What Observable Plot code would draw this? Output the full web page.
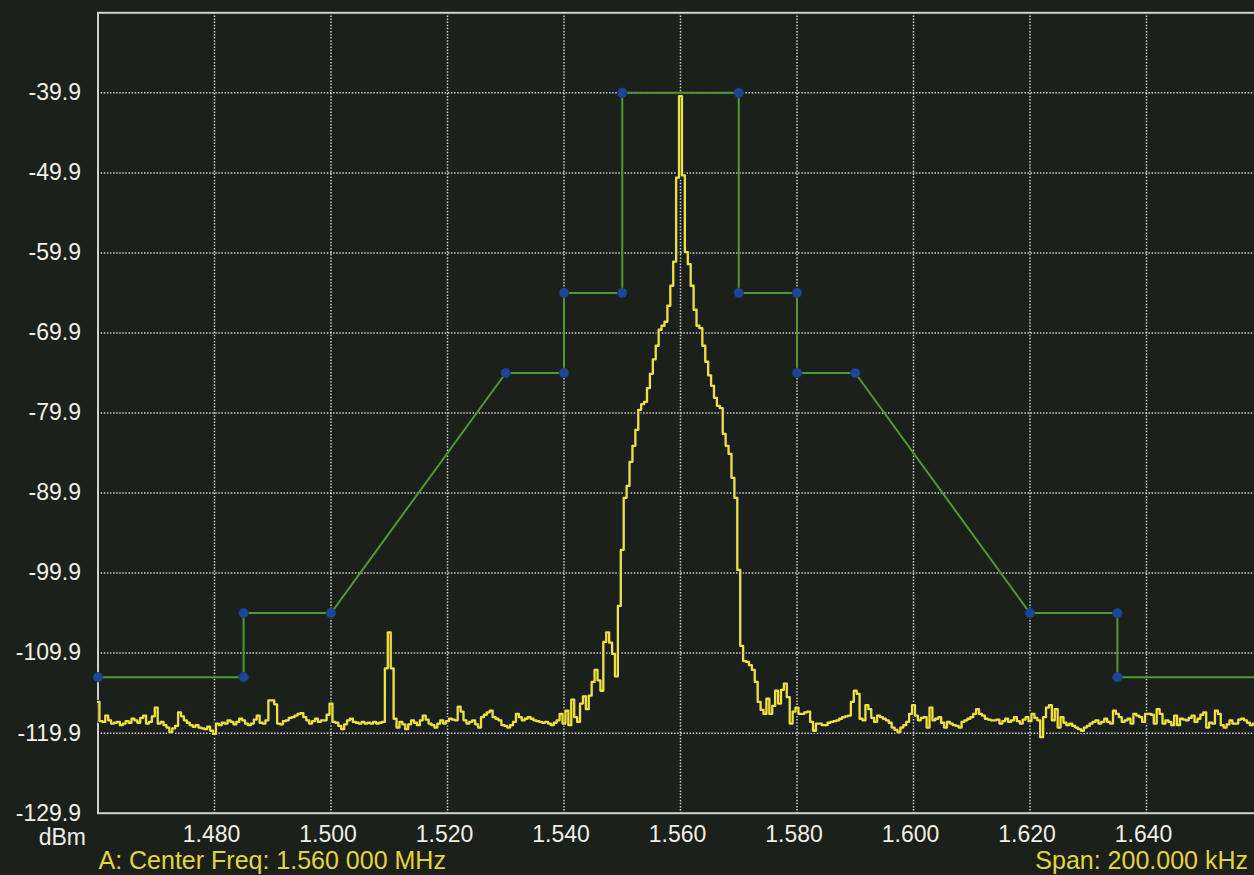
<!DOCTYPE html>
<html>
<head>
<meta charset="utf-8">
<script src="https://cdn.jsdelivr.net/npm/d3@7"></script>
<script src="https://cdn.jsdelivr.net/npm/@observablehq/plot@0.6"></script>
<style>
  html, body { margin: 0; padding: 0; background: #1b201b; overflow: hidden; width: 1254px; height: 875px; }
</style>
</head>
<body>
<div id="chart"></div>
<script>
// ---- data ----
const xTicks = [1.48, 1.50, 1.52, 1.54, 1.56, 1.58, 1.60, 1.62, 1.64, 1.66];
const yTicks = [-39.9, -49.9, -59.9, -69.9, -79.9, -89.9, -99.9, -109.9, -119.9, -129.9];

// spectral mask corners (MHz, dBm)
const maskFreq  = [1.460, 1.485, 1.485, 1.500, 1.530, 1.540, 1.540, 1.550, 1.550, 1.570, 1.570, 1.580, 1.580, 1.590, 1.620, 1.635, 1.635, 1.660];
const maskLevel = [-112.9, -112.9, -104.9, -104.9, -74.9, -74.9, -64.9, -64.9, -39.9, -39.9, -64.9, -64.9, -74.9, -74.9, -104.9, -104.9, -112.9, -112.9];

// trace: one reading per 0.5 kHz bin from 1.460 MHz
const traceStart = 1.460;
const traceBin = 0.0005;
const traceLevel = [
  -116.0, -118.4, -118.5, -117.7, -118.3, -118.7, -118.6, -118.5, -118.9, -118.7,
  -118.4, -118.6, -118.1, -118.3, -118.6, -118.0, -117.7, -118.7, -118.5, -117.8,
  -116.7, -118.7, -118.5, -118.9, -119.2, -119.8, -119.3, -119.0, -117.3, -117.8,
  -118.3, -118.6, -118.9, -119.1, -118.9, -119.2, -119.3, -119.4, -119.1, -119.6,
  -120.0, -118.7, -118.9, -118.6, -118.7, -118.3, -118.5, -118.8, -118.5, -118.1,
  -118.3, -118.7, -118.9, -118.7, -118.2, -117.7, -118.6, -118.7, -118.3, -115.8,
  -115.8, -116.3, -118.7, -118.8, -118.4, -118.3, -118.0, -117.9, -117.7, -117.5,
  -117.4, -117.9, -118.3, -118.7, -118.4, -118.1, -118.5, -118.3, -118.3, -117.6,
  -116.2, -118.5, -118.6, -119.0, -119.4, -118.8, -118.3, -118.1, -118.5, -118.6,
  -118.7, -118.5, -118.7, -118.6, -118.7, -118.5, -118.7, -118.6, -118.5, -111.8,
  -107.3, -111.8, -118.1, -119.2, -118.5, -118.8, -119.4, -118.8, -118.3, -118.6,
  -118.9, -118.3, -117.7, -118.2, -118.7, -118.9, -119.2, -118.7, -118.3, -118.7,
  -118.4, -118.1, -118.2, -118.3, -116.6, -117.2, -118.3, -118.7, -118.5, -118.3,
  -118.8, -119.2, -117.9, -117.6, -117.3, -117.1, -117.9, -118.1, -118.3, -118.9,
  -119.0, -119.2, -118.9, -118.5, -117.5, -117.9, -118.3, -118.1, -117.9, -118.1,
  -118.3, -118.4, -118.5, -118.6, -118.5, -118.7, -118.9, -118.6, -118.3, -117.5,
  -118.7, -117.1, -118.9, -115.7, -117.9, -118.5, -116.2, -115.3, -116.9, -115.2,
  -113.5, -112.0, -113.3, -114.6, -108.5, -107.3, -108.6, -110.0, -112.8, -104.0,
  -97.0, -90.5, -89.0, -86.0, -84.0, -82.0, -79.5, -78.8, -78.5, -76.8,
  -75.0, -73.2, -71.5, -69.5, -69.0, -68.5, -66.5, -64.0, -61.0, -50.5,
  -40.3, -50.2, -59.8, -61.3, -64.0, -67.0, -69.0, -69.3, -71.5, -73.5,
  -75.2, -76.5, -78.0, -79.0, -79.3, -82.5, -84.0, -85.0, -88.0, -90.5,
  -99.5, -109.0, -110.9, -111.0, -111.4, -112.0, -113.5, -116.0, -117.0, -117.5,
  -115.6, -117.5, -116.5, -114.6, -116.2, -114.5, -113.7, -115.4, -118.7, -117.2,
  -116.7, -117.5, -117.5, -117.3, -117.2, -118.5, -119.6, -118.7, -118.7, -118.9,
  -118.9, -118.6, -118.5, -118.4, -118.3, -118.1, -117.9, -117.8, -117.7, -116.0,
  -114.6, -115.0, -118.1, -118.3, -116.4, -116.9, -118.0, -118.5, -117.7, -117.9,
  -118.1, -118.3, -118.6, -119.2, -119.5, -119.8, -119.2, -118.9, -118.5, -117.5,
  -116.4, -117.7, -118.3, -118.0, -117.9, -119.2, -116.7, -118.3, -118.1, -117.9,
  -118.6, -119.2, -118.5, -118.7, -118.9, -119.0, -119.2, -118.5, -118.3, -118.1,
  -117.9, -117.5, -116.9, -117.5, -117.7, -118.1, -118.2, -118.3, -118.3, -118.2,
  -118.7, -118.4, -118.1, -118.5, -118.3, -117.9, -118.4, -118.7, -118.2, -117.9,
  -118.4, -117.5, -118.0, -118.3, -120.4, -117.9, -116.7, -116.4, -118.3, -116.9,
  -119.2, -117.9, -118.6, -118.9, -118.7, -119.0, -119.2, -119.4, -119.6, -119.2,
  -119.0, -118.7, -118.5, -118.3, -118.7, -118.5, -118.1, -118.5, -118.7, -117.1,
  -117.5, -117.9, -118.5, -118.3, -118.1, -118.7, -117.5, -117.7, -117.9, -118.5,
  -117.5, -117.5, -117.6, -118.7, -116.9, -117.5, -118.7, -118.3, -118.5, -118.9,
  -117.7, -118.9, -118.1, -118.2, -118.3, -118.0, -117.7, -118.5, -118.1, -117.6,
  -117.3, -119.2, -118.6, -118.7, -117.1, -117.5, -118.9, -119.2, -118.8, -118.3,
  -118.7, -118.7, -118.2, -118.1, -118.3, -118.6, -118.9, -118.7, -118.5, -118.6,
  -118.7
];

const unitLabel = "dBm";
const leftFooter = "A: Center Freq: 1.560 000 MHz";
const rightFooter = "Span: 200.000 kHz";

// ---- tables built from the arrays ----
const mask = maskFreq.map((f, i) => ({f, v: maskLevel[i]}));
const trace = traceLevel.map((v, i) => ({f: traceStart + i * traceBin, v}));

const tickColor = "#f2efe6";
const footerColor = "#e4d43c";

const chart = Plot.plot({
  width: 1270,
  height: 875,
  marginLeft: 97.5,
  marginRight: 7.5,
  marginTop: 12.3,
  marginBottom: 62.3,
  x: {domain: [1.46, 1.66], label: null},
  y: {domain: [-129.9, -29.9], label: null},
  style: {
    background: "#1b201b",
    color: tickColor,
    fontFamily: "'Liberation Sans', Arial, sans-serif",
    fontSize: "23px",
    maxWidth: "none"
  },
  marks: [
    Plot.gridX(xTicks, {stroke: "#e2e2e2", strokeOpacity: 0.9, strokeWidth: 1.5, strokeDasharray: "1.5,1.6"}),
    Plot.gridY(yTicks.slice(0, -1), {stroke: "#e2e2e2", strokeOpacity: 0.9, strokeWidth: 1.5, strokeDasharray: "1.5,1.6"}),
    Plot.frame({stroke: "#d0d0d0", strokeWidth: 2}),
    Plot.axisX(xTicks.slice(0, -1), {tickSize: 0, tickPadding: 12, dx: -3, tickFormat: d3.format(".3f"), fontSize: 23, fill: tickColor, label: null}),
    Plot.axisY(yTicks, {tickSize: 0, tickPadding: 17, tickFormat: d => d.toFixed(1), fontSize: 23, fill: tickColor, label: null}),
    Plot.line(mask, {x: "f", y: "v", stroke: "#4f9a2f", strokeWidth: 2}),
    Plot.line(trace, {x: "f", y: "v", curve: "step", stroke: "#14204e", strokeWidth: 4.6, strokeOpacity: 0.9}),
    Plot.line(trace, {x: "f", y: "v", curve: "step", stroke: "#f4e12a", strokeWidth: 2.3}),
    Plot.dot(mask, {x: "f", y: "v", r: 4.8, fill: "#1d4796", stroke: "#17397a", strokeWidth: 0.8}),
    Plot.text([unitLabel], {text: d => d, frameAnchor: "bottom-left", textAnchor: "end", lineAnchor: "bottom", dx: -12, dy: 32, fill: tickColor, fontSize: 23}),
    Plot.text([leftFooter], {text: d => d, frameAnchor: "bottom-left", textAnchor: "start", lineAnchor: "bottom", dx: 0.5, dy: 55.5, fill: footerColor, fontSize: 25}),
    Plot.text([rightFooter], {text: d => d, frameAnchor: "bottom-right", textAnchor: "end", lineAnchor: "bottom", dx: -15, dy: 55.5, fill: footerColor, fontSize: 25})
  ]
});
document.getElementById("chart").appendChild(chart);
</script>
</body>
</html>
